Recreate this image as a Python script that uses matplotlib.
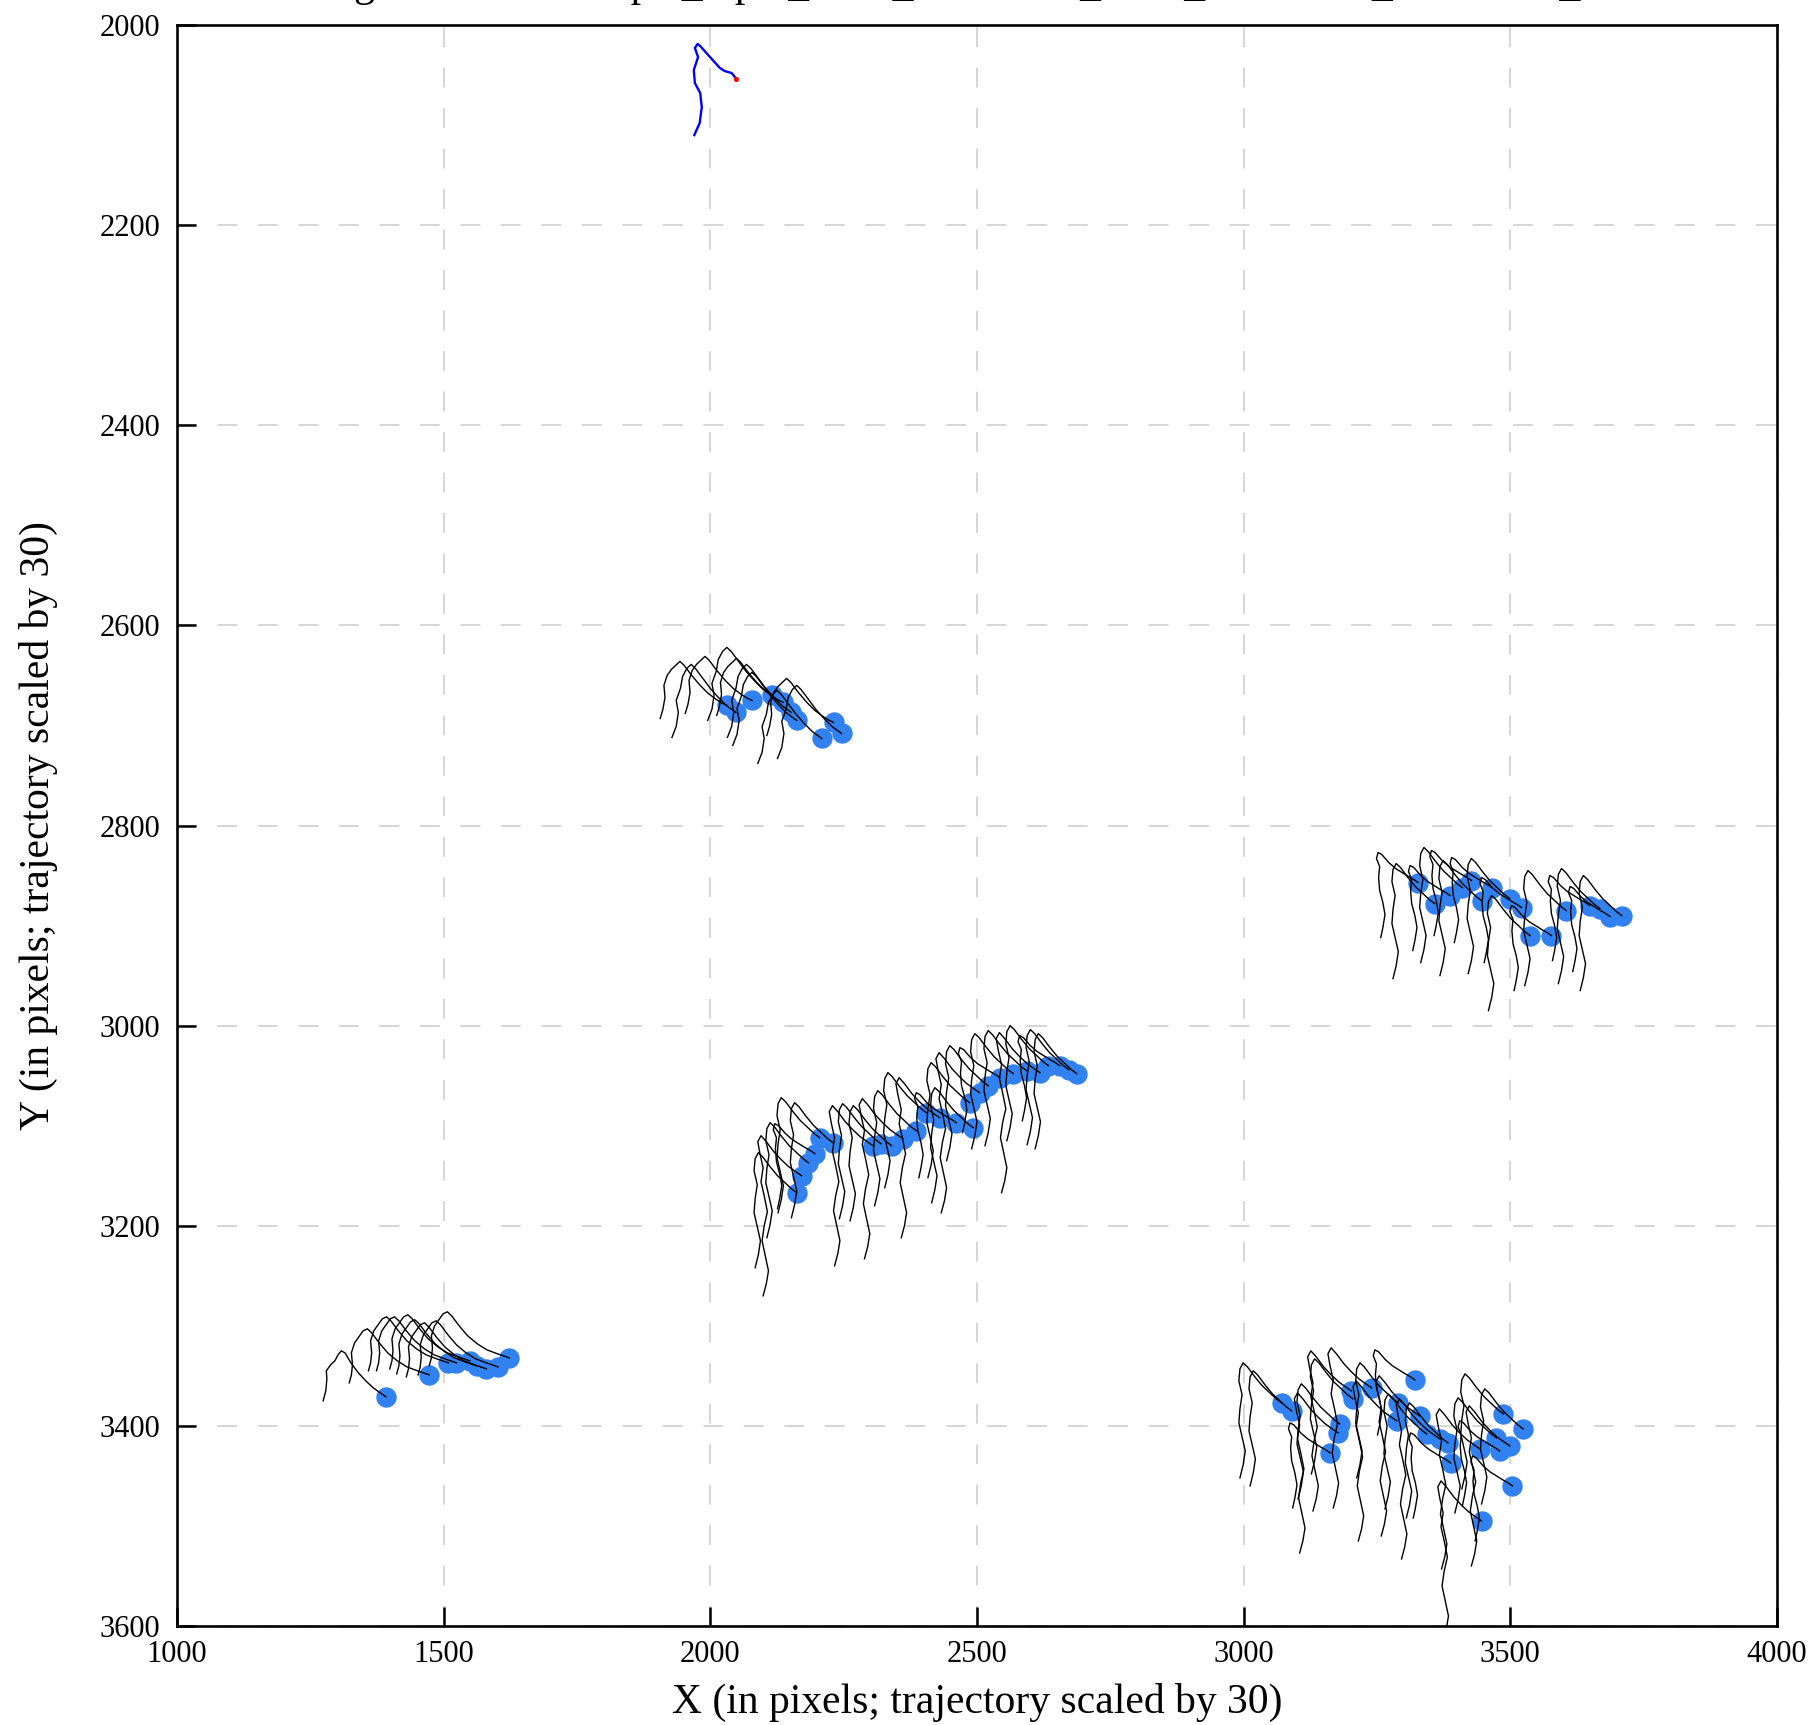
import numpy as np
import matplotlib
matplotlib.use("Agg")
import matplotlib.pyplot as plt

plt.rcParams['font.family'] = ['Liberation Serif', 'DejaVu Serif']

# detected positions (blue dots), grouped by cluster
dots_a_x = [2031, 2048, 2078, 2115, 2137, 2152, 2162, 2209, 2231, 2246]
dots_a_y = [2680, 2687, 2675, 2670, 2677, 2687, 2695, 2713, 2697, 2708]
kind_a = [5, 6, 5, 6, 5, 6, 6, 6, 5, 6]

dots_b_x = [1392, 1473, 1509, 1524, 1549, 1562, 1580, 1602, 1623]
dots_b_y = [3371, 3349, 3337, 3337, 3335, 3340, 3343, 3341, 3332]
kind_b = [1, 0, 0, 0, 0, 0, 0, 0, 0]

dots_c_x = [3327, 3358, 3387, 3410, 3427, 3446, 3465, 3499, 3521, 3537,
            3577, 3605, 3649, 3668, 3687, 3709]
dots_c_y = [2857, 2878, 2870, 2862, 2855, 2875, 2862, 2873, 2882, 2910,
            2910, 2885, 2880, 2883, 2891, 2890]
kind_c = [2, 3, 2, 3, 2, 3, 2, 3, 2, 3, 2, 3, 2, 3, 2, 3]

dots_d_x = [2162, 2171, 2184, 2196, 2205, 2230, 2305, 2320, 2340, 2361,
            2386, 2405, 2430, 2461, 2486, 2493, 2505, 2521, 2543, 2568,
            2593, 2618, 2634, 2655, 2672, 2687]
dots_d_y = [3167, 3150, 3137, 3128, 3112, 3117, 3120, 3118, 3120, 3113,
            3105, 3087, 3092, 3097, 3077, 3102, 3067, 3060, 3052, 3048,
            3045, 3047, 3040, 3040, 3044, 3048]
kind_d = [3, 4, 3, 2, 3, 3, 4, 3, 3, 4, 3, 3, 4, 2, 3, 3, 4, 3, 2, 3,
          3, 4, 3, 2, 3, 3]

dots_e_x = [3071, 3090, 3162, 3177, 3180, 3202, 3205, 3240, 3287, 3290,
            3321, 3330, 3343, 3368, 3383, 3388, 3443, 3446, 3474, 3480,
            3487, 3499, 3504, 3524]
dots_e_y = [3377, 3385, 3427, 3407, 3398, 3365, 3373, 3362, 3395, 3377,
            3354, 3390, 3408, 3413, 3417, 3437, 3423, 3495, 3412, 3425,
            3388, 3420, 3460, 3403]
kind_e = [3, 3, 2, 4, 3, 4, 3, 4, 4, 3, 2, 4, 3, 4, 3, 2, 4, 4, 3, 2,
          3, 4, 2, 3]

# trajectory shapes, as offsets from the end point (data units)
traj_dx = {
    0: [-150, -146, -144, -146, -140, -132, -124, -116, -108, -94, -78, -60, -42, -22, 0],
    1: [-118, -113, -111, -112, -104, -96, -90, -84, -77, -66, -52, -38, -24, -11, 0],
    2: [-70, -66, -62, -66, -72, -74, -72, -78, -75, -68, -55, -42, -30, -18, -8, 0],
    3: [-78, -72, -68, -74, -80, -78, -74, -80, -78, -72, -64, -50, -36, -22, -10, 0],
    4: [-72, -66, -62, -68, -74, -70, -64, -70, -76, -72, -78, -82, -76, -66, -52, -38, -24, -11, 0],
    5: [-125, -120, -116, -118, -112, -104, -96, -88, -80, -66, -50, -35, -20, -8, 0],
    6: [-120, -112, -108, -112, -104, -100, -92, -84, -76, -62, -48, -33, -18, 0],
}
traj_dy = {
    0: [8, 0, -10, -22, -32, -38, -44, -46, -42, -32, -22, -14, -8, -4, 0],
    1: [4, -6, -18, -26, -32, -36, -42, -46, -44, -34, -24, -16, -9, -4, 0],
    2: [55, 45, 32, 20, 8, -5, -16, -24, -30, -28, -20, -14, -10, -6, -3, 0],
    3: [75, 62, 48, 34, 20, 6, -8, -22, -34, -40, -36, -26, -17, -10, -4, 0],
    4: [120, 108, 95, 80, 65, 50, 36, 20, 6, -8, -22, -34, -40, -34, -24, -16, -9, -4, 0],
    5: [13, 4, -8, -20, -30, -36, -40, -44, -40, -30, -20, -12, -6, -2, 0],
    6: [25, 14, 0, -12, -24, -36, -44, -48, -44, -34, -24, -15, -7, 0],
}

# reference trajectory (blue) and its end point (red)
ref_x = [1970, 1980, 1984, 1981, 1971, 1969, 1977, 1971, 1976, 1981, 1996,
         2018, 2027, 2040, 2049]
ref_y = [2110, 2098, 2082, 2068, 2058, 2045, 2032, 2023, 2019, 2021, 2030,
         2043, 2046, 2048, 2054]

title = "Tracking results for sample_input_track_20190315_1410_00004527_00013962_0000"

fig = plt.figure(figsize=(18.17, 17.25), dpi=100)
ax = fig.add_axes([177 / 1817, 99 / 1725, 1600 / 1817, 1601 / 1725])

all_x = dots_a_x + dots_b_x + dots_c_x + dots_d_x + dots_e_x
all_y = dots_a_y + dots_b_y + dots_c_y + dots_d_y + dots_e_y
all_k = kind_a + kind_b + kind_c + kind_d + kind_e

ax.scatter(all_x, all_y, s=215, color='#3182f0', linewidths=0, zorder=2)
for x, y, k in zip(all_x, all_y, all_k):
    ax.plot(x + np.array(traj_dx[k]), y + np.array(traj_dy[k]),
            color='black', lw=1.0, zorder=3)

ax.plot(ref_x, ref_y, color='#0000ff', lw=1.7, zorder=3)
ax.scatter([ref_x[-1]], [ref_y[-1]], s=14, color='red', linewidths=0, zorder=4)

ax.set_xlim(1000, 4000)
ax.set_ylim(3600, 2000)
ax.set_xticks(np.arange(1000, 4001, 500))
ax.set_yticks(np.arange(2000, 3601, 200))
ax.grid(True, color='#cccccc', lw=1.1, linestyle=(0, (13, 13.5)))
ax.set_axisbelow(True)

for side in ['left', 'bottom', 'right', 'top']:
    ax.spines[side].set_linewidth(1.9)
ax.tick_params(axis='both', direction='in', length=14, width=1.8,
               labelsize=22, top=False, right=False)
ax.tick_params(axis='x', pad=10)
ax.tick_params(axis='y', pad=12)

ax.set_xlabel("X (in pixels; trajectory scaled by 30)", fontsize=30, labelpad=10)
ax.set_ylabel("Y (in pixels; trajectory scaled by 30)", fontsize=30, labelpad=30)

fig.text(0.52, 1.0 + 4 / 1725, title, ha='center', va='baseline', fontsize=30)

fig.savefig("out.png", dpi=100)
